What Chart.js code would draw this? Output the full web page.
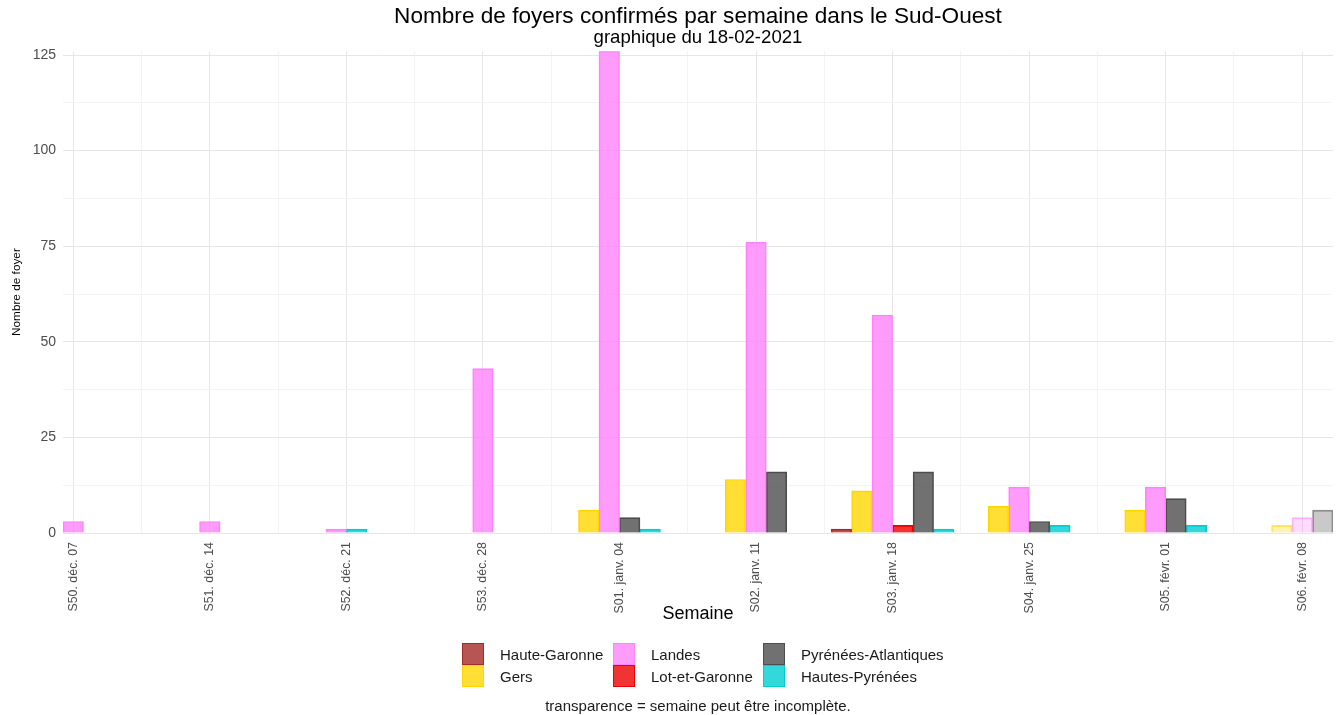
<!DOCTYPE html>
<html lang="fr">
<head>
<meta charset="UTF-8">
<title>Nombre de foyers confirmés par semaine dans le Sud-Ouest</title>
<script src="https://cdn.jsdelivr.net/npm/chart.js"></script>
<style>
  body { margin: 0; background: #fff; font-family: "Liberation Sans", Arial, sans-serif; }
  #wrap { position: relative; width: 1339px; height: 715px; }
  #legend { position: absolute; left: 462px; top: 643px; display: grid;
            grid-template-columns: 151px 150px 190px; grid-auto-flow: column; grid-template-rows: 22px 22px; }
  .item { display: flex; align-items: center; font-size: 15px; color: #1a1a1a; }
  .sw { width: 20px; height: 20px; border: 1px solid; margin-right: 16px; }
  #caption { position: absolute; top: 698px; left: 0; width: 1396px; text-align: center;
             font-size: 15px; line-height: 16px; color: #1a1a1a; }
</style>
</head>
<body>
<div id="wrap">
  <canvas id="chart"></canvas>
  <div id="legend"></div>
  <div id="caption">transparence = semaine peut être incomplète.</div>
</div>
<script>
  const weeks = ['S50. déc. 07', 'S51. déc. 14', 'S52. déc. 21', 'S53. déc. 28', 'S01. janv. 04',
                 'S02. janv. 11', 'S03. janv. 18', 'S04. janv. 25', 'S05. févr. 01', 'S06. févr. 08'];
  const incomplete = [false, false, false, false, false, false, false, false, false, true];

  const departements = ['Haute-Garonne', 'Gers', 'Landes', 'Lot-et-Garonne', 'Pyrénées-Atlantiques', 'Hautes-Pyrénées'];
  const hauteGaronne   = [0, 0, 0, 0, 0, 0, 1, 0, 0, 0];
  const gers           = [0, 0, 0, 0, 6, 14, 11, 7, 6, 2];
  const landes         = [3, 3, 1, 43, 126, 76, 57, 12, 12, 4];
  const lotEtGaronne   = [0, 0, 0, 0, 0, 0, 2, 0, 0, 0];
  const pyrAtlantiques = [0, 0, 0, 0, 4, 16, 16, 3, 9, 6];
  const hautesPyrenees = [0, 0, 1, 0, 1, 0, 1, 2, 2, 0];
  const series = [hauteGaronne, gers, landes, lotEtGaronne, pyrAtlantiques, hautesPyrenees];

  const couleurs = ['#A52A2A', '#FFD700', '#FF83FA', '#EE0000', '#4D4D4D', '#00CED1'];

  function rgba(hex, a) {
    const n = parseInt(hex.slice(1), 16);
    return `rgba(${(n >> 16) & 255},${(n >> 8) & 255},${n & 255},${a})`;
  }

  // dodge façon ggplot : barres présentes centrées sur la semaine, largeur = 0.9 / max présents
  const presents = weeks.map((_, w) => series.filter(s => s[w] > 0).length);
  const slot = 0.9 / Math.max(...presents);
  const datasets = series.map((vals, d) => {
    const pts = [];
    vals.forEach((v, w) => {
      if (!(v > 0)) return;
      const idx = series.slice(0, d).filter(s => s[w] > 0).length;
      pts.push({ x: w + (idx - (presents[w] - 1) / 2) * slot, y: v, w: w });
    });
    return {
      label: departements[d],
      data: pts,
      grouped: false,
      barPercentage: 1,
      categoryPercentage: 1,
      borderWidth: 1,
      backgroundColor: c => rgba(couleurs[d], c.raw && incomplete[c.raw.w] ? 0.3 : 0.8),
      borderColor: c => rgba(couleurs[d], c.raw && incomplete[c.raw.w] ? 0.6 : 1)
    };
  });

  const xMin = -slot / 2;
  const xMax = weeks.length - 1 + (presents[presents.length - 1] / 2) * slot;
  const yMax = Math.max(...series.flat());

  const legend = document.getElementById('legend');
  departements.forEach((nom, d) => {
    const it = document.createElement('div');
    it.className = 'item';
    it.innerHTML = `<span class="sw" style="background:${rgba(couleurs[d], 0.8)};border-color:${couleurs[d]}"></span>${nom}`;
    legend.appendChild(it);
  });

  const font = '"Liberation Sans", Arial, sans-serif';
  new Chart(document.getElementById('chart'), {
    type: 'bar',
    data: { datasets },
    options: {
      responsive: true,
      maintainAspectRatio: false,
      animation: false,
      layout: { padding: { left: 0, right: 6, top: 0, bottom: 85 } },
      plugins: {
        legend: { display: false },
        tooltip: { enabled: false },
        title: { display: true, fullSize: false, text: 'Nombre de foyers confirmés par semaine dans le Sud-Ouest',
                 color: '#000', font: { family: font, size: 22.6, weight: 'normal', lineHeight: 1 }, padding: { top: 5, bottom: 0 } },
        subtitle: { display: true, fullSize: false, text: 'graphique du 18-02-2021',
                    color: '#000', font: { family: font, size: 18.6, lineHeight: 1 }, padding: { top: 1, bottom: 4 } }
      },
      scales: {
        x: {
          type: 'linear', min: xMin, max: xMax, offset: false,
          afterBuildTicks: s => { s.ticks = []; for (let v = 0; v <= weeks.length - 1; v += 0.5) s.ticks.push({ value: v }); },
          afterFit: s => { s.height = 97; },
          grid: { offset: false, drawTicks: false, color: c => (c.tick && Number.isInteger(c.tick.value)) ? '#e6e6e6' : '#f3f3f3' },
          border: { display: false },
          ticks: { autoSkip: false, minRotation: 90, maxRotation: 90, padding: 9, color: '#4d4d4d',
                   font: { family: font, size: 12.4 },
                   callback: v => Number.isInteger(v) ? weeks[v] : '' },
          title: { display: true, text: 'Semaine', color: '#000', font: { family: font, size: 18 }, padding: { top: 0, bottom: 5 } }
        },
        y: {
          min: 0, max: yMax,
          afterBuildTicks: s => { s.ticks = []; for (let v = 0; v <= 125; v += 12.5) s.ticks.push({ value: v }); },
          afterFit: s => { s.width = 63; },
          grid: { drawTicks: false, color: c => (c.tick && c.tick.value % 25 === 0) ? '#e6e6e6' : '#f3f3f3' },
          border: { display: false },
          ticks: { padding: 7, color: '#4d4d4d', font: { family: font, size: 14 },
                   callback: v => v % 25 === 0 ? v : '' },
          title: { display: true, text: 'Nombre de foyer', color: '#000',
                   font: { family: font, size: 11.8 }, padding: { top: 10 } }
        }
      }
    }
  });
</script>
</body>
</html>
